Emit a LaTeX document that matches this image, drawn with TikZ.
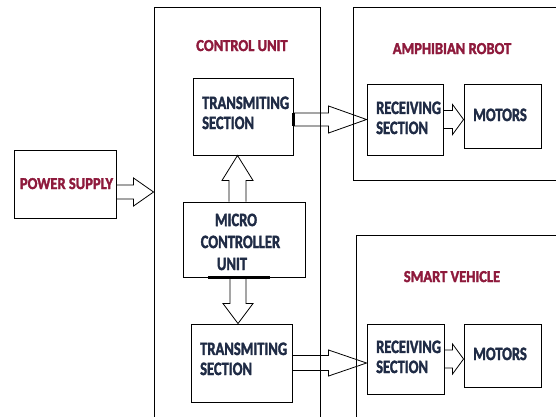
\documentclass[tikz,border=0pt]{standalone}
\usepackage{fontspec}
\setmainfont{Carlito}[BoldFeatures={FakeBold=2.2}]
\usetikzlibrary{calc}

\begin{document}
\begin{tikzpicture}[x=1pt,y=-1pt,line join=miter]
  % Colors
  \definecolor{titlecolor}{HTML}{8E1A3C}
  \definecolor{labelcolor}{HTML}{1F2B45}

  % Styles
  \tikzstyle{block}=[draw,line width=0.9pt,inner sep=0pt]
  \tikzstyle{joint}=[line width=2.2pt]
  \tikzstyle{title text}=[font=\fontsize{14.5}{16.7}\selectfont\bfseries,text=titlecolor,yscale=1.15,inner sep=0pt,anchor=base]
  \tikzstyle{block text}=[font=\fontsize{14.5}{15.4}\selectfont\bfseries,text=labelcolor,yscale=1.3,inner sep=0pt,align=left,anchor=base west]
  \tikzset{hollow arrow/.style n args={3}{line width=0.8pt,
    to path={let \p1=(\tikztostart), \p2=(\tikztotarget),
      \n1={(\x2-\x1)/veclen(\x2-\x1,\y2-\y1)},
      \n2={(\y2-\y1)/veclen(\x2-\x1,\y2-\y1)} in
      ({\x1-#1*(\n2)},{\y1+#1*(\n1)})
      -- ({\x2-#3*(\n1)-#1*(\n2)},{\y2-#3*(\n2)+#1*(\n1)})
      -- ({\x2-#3*(\n1)-#2*(\n2)},{\y2-#3*(\n2)+#2*(\n1)})
      -- (\p2)
      -- ({\x2-#3*(\n1)+#2*(\n2)},{\y2-#3*(\n2)-#2*(\n1)})
      -- ({\x2-#3*(\n1)+#1*(\n2)},{\y2-#3*(\n2)-#1*(\n1)})
      -- ({\x1+#1*(\n2)},{\y1-#1*(\n1)})}}}

  \useasboundingbox (0,0) rectangle (556,416);

  % Outer units
  \node[block,minimum width=166pt,minimum height=423pt] (cu) at (237,218.5) {};
  \node[block,minimum width=217pt,minimum height=173pt] (ar) at (461.5,93.5) {};
  \node[block,minimum width=214pt,minimum height=195pt] (sv) at (463,332.5) {};

  \node[title text] (cut) at (242,51) {CONTROL UNIT};
  \node[title text] (art) at (452,54) {AMPHIBIAN ROBOT};
  \node[title text] (svt) at (452,282) {SMART VEHICLE};

  % Blocks
  \node[block,minimum width=102pt,minimum height=68pt] (ps) at (65,184) {};
  \node[block,minimum width=100pt,minimum height=77pt] (ts1) at (243,116.5) {};
  \node[block,minimum width=122pt,minimum height=75pt] (mcu) at (244,239.5) {};
  \node[block,minimum width=101pt,minimum height=78pt] (ts2) at (241.5,363) {};
  \node[block,minimum width=76pt,minimum height=71pt] (rs1) at (405,119.5) {};
  \node[block,minimum width=77pt,minimum height=64pt] (m1) at (502.5,116) {};
  \node[block,minimum width=77pt,minimum height=70pt] (rs2) at (405.5,359) {};
  \node[block,minimum width=77pt,minimum height=63pt] (m2) at (502.5,355.5) {};

  % Texts (base = last line)
  \node[title text] (pst) at (66.5,189) {POWER SUPPLY};
  \node[block text] (ts1t) at (202,129) {TRANSMITING\\SECTION};
  \node[block text,align=center,anchor=base] (mcut) at (240.5,270) {\hspace*{-9pt}MICRO\\[1.5pt]CONTROLLER\\[1.5pt]\hspace*{-17pt}UNIT};
  \node[block text] (ts2t) at (200,375) {TRANSMITING\\SECTION};
  \node[block text] (rs1t) at (376,134) {RECEIVING\\SECTION};
  \node[block text] (rs2t) at (376,373) {RECEIVING\\SECTION};
  \node[block text,anchor=base] (m1t) at (500,121) {MOTORS};
  \node[block text,anchor=base] (m2t) at (500,360) {MOTORS};

  % Arrows
  \coordinate (psout) at ($(ps.east)+(0,8)$);
  \coordinate (mcuup) at ($(mcu.north)+(-6.5,0)$);
  \coordinate (mcudown) at ($(mcu.south)+(-6,0)$);

  \draw[hollow arrow={7}{14}{20}] (psout) to (psout -| cu.west);
  \draw[hollow arrow={8.5}{15.5}{25}] (mcuup) to (mcuup |- ts1.south);
  \draw[hollow arrow={8}{15}{20}] (mcudown) to (mcudown |- ts2.north);
  \draw[hollow arrow={6.5}{13.5}{38}] (ts1.east |- rs1.west) to (rs1.west);
  \draw[hollow arrow={7.5}{13}{38}] (ts2.east) to (ts2.east -| rs2.west);
  \draw[hollow arrow={9}{15}{11}] (rs1.east) to (rs1.east -| m1.west);
  \draw[hollow arrow={9}{15}{11}] (rs2.east) to (rs2.east -| m2.west);

  % Thick joints
  \draw[joint] (ts1.east |- 0,113) -- (ts1.east |- 0,126);
  \draw[joint] (mcu.south -| 208,0) -- (mcu.south -| 270,0);
\end{tikzpicture}
\end{document}
